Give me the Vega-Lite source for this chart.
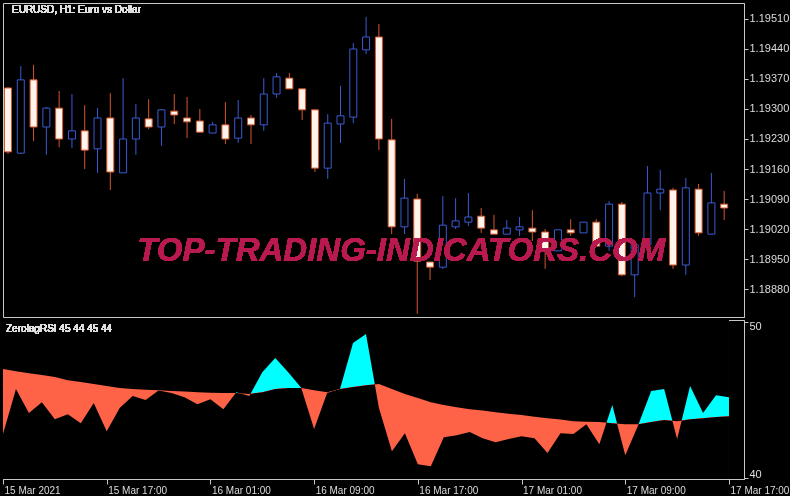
{
  "$schema": "https://vega.github.io/schema/vega-lite/v6.json",
  "background": "#000000",
  "padding": {"left": 2, "top": 2, "right": 0, "bottom": 0},
  "spacing": 1,
  "config": {
    "view": {"stroke": "#c8c8c8", "strokeWidth": 1, "fill": "#000000"},
    "axis": {"domainColor": "#c8c8c8", "tickColor": "#c8c8c8", "labelColor": "#dcdcdc", "labelFont": "Liberation Sans", "grid": false, "title": null}
  },
  "data": {"values": [
    {"t": "2021-03-15T09:00:00Z", "o": 1.19349, "h": 1.19351, "l": 1.19195, "c": 1.19200, "d": "down", "f": 42.81, "s": 46.98},
    {"t": "2021-03-15T10:00:00Z", "o": 1.19197, "h": 1.19400, "l": 1.19195, "c": 1.19368, "d": "up", "f": 45.70, "s": 46.85},
    {"t": "2021-03-15T11:00:00Z", "o": 1.19368, "h": 1.19403, "l": 1.19225, "c": 1.19258, "d": "down", "f": 44.16, "s": 46.72},
    {"t": "2021-03-15T12:00:00Z", "o": 1.19258, "h": 1.19305, "l": 1.19193, "c": 1.19302, "d": "up", "f": 44.86, "s": 46.60},
    {"t": "2021-03-15T13:00:00Z", "o": 1.19302, "h": 1.19342, "l": 1.19211, "c": 1.19230, "d": "down", "f": 43.77, "s": 46.47},
    {"t": "2021-03-15T14:00:00Z", "o": 1.19230, "h": 1.19335, "l": 1.19209, "c": 1.19249, "d": "up", "f": 44.09, "s": 46.27},
    {"t": "2021-03-15T15:00:00Z", "o": 1.19249, "h": 1.19309, "l": 1.19160, "c": 1.19204, "d": "down", "f": 43.51, "s": 46.15},
    {"t": "2021-03-15T16:00:00Z", "o": 1.19207, "h": 1.19302, "l": 1.19151, "c": 1.19279, "d": "up", "f": 44.80, "s": 46.02},
    {"t": "2021-03-15T17:00:00Z", "o": 1.19279, "h": 1.19337, "l": 1.19111, "c": 1.19153, "d": "down", "f": 43.00, "s": 45.89},
    {"t": "2021-03-15T18:00:00Z", "o": 1.19151, "h": 1.19372, "l": 1.19151, "c": 1.19230, "d": "up", "f": 44.48, "s": 45.76},
    {"t": "2021-03-15T19:00:00Z", "o": 1.19230, "h": 1.19312, "l": 1.19193, "c": 1.19279, "d": "up", "f": 45.25, "s": 45.70},
    {"t": "2021-03-15T20:00:00Z", "o": 1.19277, "h": 1.19323, "l": 1.19253, "c": 1.19258, "d": "down", "f": 44.99, "s": 45.66},
    {"t": "2021-03-15T21:00:00Z", "o": 1.19258, "h": 1.19300, "l": 1.19214, "c": 1.19298, "d": "up", "f": 45.60, "s": 45.63},
    {"t": "2021-03-15T22:00:00Z", "o": 1.19295, "h": 1.19335, "l": 1.19265, "c": 1.19286, "d": "down", "f": 45.44, "s": 45.57},
    {"t": "2021-03-15T23:00:00Z", "o": 1.19279, "h": 1.19328, "l": 1.19232, "c": 1.19270, "d": "down", "f": 45.18, "s": 45.54},
    {"t": "2021-03-16T00:00:00Z", "o": 1.19272, "h": 1.19300, "l": 1.19244, "c": 1.19246, "d": "down", "f": 44.73, "s": 45.50},
    {"t": "2021-03-16T01:00:00Z", "o": 1.19244, "h": 1.19270, "l": 1.19244, "c": 1.19263, "d": "up", "f": 45.05, "s": 45.47},
    {"t": "2021-03-16T02:00:00Z", "o": 1.19263, "h": 1.19316, "l": 1.19218, "c": 1.19230, "d": "down", "f": 44.41, "s": 45.44},
    {"t": "2021-03-16T03:00:00Z", "o": 1.19232, "h": 1.19321, "l": 1.19221, "c": 1.19279, "d": "up", "f": 45.50, "s": 45.44},
    {"t": "2021-03-16T04:00:00Z", "o": 1.19279, "h": 1.19286, "l": 1.19218, "c": 1.19263, "d": "down", "f": 45.25, "s": 45.38},
    {"t": "2021-03-16T05:00:00Z", "o": 1.19263, "h": 1.19372, "l": 1.19249, "c": 1.19335, "d": "up", "f": 46.78, "s": 45.50},
    {"t": "2021-03-16T06:00:00Z", "o": 1.19335, "h": 1.19384, "l": 1.19326, "c": 1.19375, "d": "up", "f": 47.69, "s": 45.70},
    {"t": "2021-03-16T07:00:00Z", "o": 1.19372, "h": 1.19384, "l": 1.19347, "c": 1.19347, "d": "down", "f": 46.78, "s": 45.76},
    {"t": "2021-03-16T08:00:00Z", "o": 1.19347, "h": 1.19347, "l": 1.19274, "c": 1.19298, "d": "down", "f": 45.78, "s": 45.76},
    {"t": "2021-03-16T09:00:00Z", "o": 1.19298, "h": 1.19298, "l": 1.19153, "c": 1.19162, "d": "down", "f": 43.13, "s": 45.63},
    {"t": "2021-03-16T10:00:00Z", "o": 1.19162, "h": 1.19288, "l": 1.19137, "c": 1.19267, "d": "up", "f": 45.44, "s": 45.50},
    {"t": "2021-03-16T11:00:00Z", "o": 1.19265, "h": 1.19354, "l": 1.19221, "c": 1.19284, "d": "up", "f": 45.72, "s": 45.70},
    {"t": "2021-03-16T12:00:00Z", "o": 1.19281, "h": 1.19454, "l": 1.19267, "c": 1.19440, "d": "up", "f": 48.65, "s": 45.83},
    {"t": "2021-03-16T13:00:00Z", "o": 1.19438, "h": 1.19515, "l": 1.19428, "c": 1.19468, "d": "up", "f": 49.23, "s": 45.95},
    {"t": "2021-03-16T14:00:00Z", "o": 1.19468, "h": 1.19498, "l": 1.19204, "c": 1.19230, "d": "down", "f": 44.48, "s": 46.02},
    {"t": "2021-03-16T15:00:00Z", "o": 1.19228, "h": 1.19277, "l": 1.19008, "c": 1.19025, "d": "down", "f": 41.71, "s": 45.70},
    {"t": "2021-03-16T16:00:00Z", "o": 1.19025, "h": 1.19137, "l": 1.19008, "c": 1.19092, "d": "up", "f": 42.87, "s": 45.38},
    {"t": "2021-03-16T17:00:00Z", "o": 1.19090, "h": 1.19102, "l": 1.18822, "c": 1.18945, "d": "down", "f": 40.88, "s": 45.12},
    {"t": "2021-03-16T18:00:00Z", "o": 1.18943, "h": 1.18943, "l": 1.18901, "c": 1.18931, "d": "down", "f": 40.75, "s": 44.86},
    {"t": "2021-03-16T19:00:00Z", "o": 1.18931, "h": 1.19097, "l": 1.18927, "c": 1.19029, "d": "up", "f": 42.61, "s": 44.67},
    {"t": "2021-03-16T20:00:00Z", "o": 1.19025, "h": 1.19092, "l": 1.19020, "c": 1.19039, "d": "up", "f": 42.74, "s": 44.54},
    {"t": "2021-03-16T21:00:00Z", "o": 1.19036, "h": 1.19104, "l": 1.19027, "c": 1.19048, "d": "up", "f": 42.94, "s": 44.41},
    {"t": "2021-03-16T22:00:00Z", "o": 1.19050, "h": 1.19069, "l": 1.19011, "c": 1.19022, "d": "down", "f": 42.55, "s": 44.32},
    {"t": "2021-03-16T23:00:00Z", "o": 1.19018, "h": 1.19053, "l": 1.19008, "c": 1.19008, "d": "down", "f": 42.29, "s": 44.22},
    {"t": "2021-03-17T00:00:00Z", "o": 1.19008, "h": 1.19041, "l": 1.19008, "c": 1.19022, "d": "up", "f": 42.49, "s": 44.12},
    {"t": "2021-03-17T01:00:00Z", "o": 1.19018, "h": 1.19048, "l": 1.19004, "c": 1.19025, "d": "up", "f": 42.68, "s": 44.03},
    {"t": "2021-03-17T02:00:00Z", "o": 1.19022, "h": 1.19064, "l": 1.18992, "c": 1.19013, "d": "down", "f": 42.55, "s": 43.93},
    {"t": "2021-03-17T03:00:00Z", "o": 1.19013, "h": 1.19020, "l": 1.18927, "c": 1.18969, "d": "down", "f": 41.59, "s": 43.83},
    {"t": "2021-03-17T04:00:00Z", "o": 1.18969, "h": 1.19018, "l": 1.18969, "c": 1.19018, "d": "up", "f": 42.87, "s": 43.74},
    {"t": "2021-03-17T05:00:00Z", "o": 1.19018, "h": 1.19043, "l": 1.19004, "c": 1.19011, "d": "down", "f": 42.81, "s": 43.64},
    {"t": "2021-03-17T06:00:00Z", "o": 1.19011, "h": 1.19036, "l": 1.19011, "c": 1.19036, "d": "up", "f": 43.45, "s": 43.61},
    {"t": "2021-03-17T07:00:00Z", "o": 1.19036, "h": 1.19043, "l": 1.18980, "c": 1.18980, "d": "down", "f": 42.16, "s": 43.58},
    {"t": "2021-03-17T08:00:00Z", "o": 1.18980, "h": 1.19085, "l": 1.18969, "c": 1.19078, "d": "up", "f": 44.67, "s": 43.51},
    {"t": "2021-03-17T09:00:00Z", "o": 1.19078, "h": 1.19083, "l": 1.18910, "c": 1.18913, "d": "down", "f": 41.46, "s": 43.45},
    {"t": "2021-03-17T10:00:00Z", "o": 1.18913, "h": 1.18983, "l": 1.18861, "c": 1.18983, "d": "up", "f": 43.40, "s": 43.45},
    {"t": "2021-03-17T11:00:00Z", "o": 1.18983, "h": 1.19167, "l": 1.18983, "c": 1.19104, "d": "up", "f": 45.57, "s": 43.58},
    {"t": "2021-03-17T12:00:00Z", "o": 1.19104, "h": 1.19158, "l": 1.19064, "c": 1.19113, "d": "up", "f": 45.70, "s": 43.71},
    {"t": "2021-03-17T13:00:00Z", "o": 1.19111, "h": 1.19116, "l": 1.18927, "c": 1.18936, "d": "down", "f": 42.49, "s": 43.64},
    {"t": "2021-03-17T14:00:00Z", "o": 1.18936, "h": 1.19139, "l": 1.18913, "c": 1.19116, "d": "up", "f": 45.89, "s": 43.77},
    {"t": "2021-03-17T15:00:00Z", "o": 1.19113, "h": 1.19125, "l": 1.19004, "c": 1.19011, "d": "down", "f": 44.16, "s": 43.83},
    {"t": "2021-03-17T16:00:00Z", "o": 1.19008, "h": 1.19151, "l": 1.19008, "c": 1.19081, "d": "up", "f": 45.31, "s": 43.90},
    {"t": "2021-03-17T17:00:00Z", "o": 1.19078, "h": 1.19109, "l": 1.19041, "c": 1.19069, "d": "down", "f": 45.18, "s": 43.96}
  ]},
  "vconcat": [
    {
      "width": 741,
      "height": 314,
      "encoding": {
        "x": {"field": "t", "type": "temporal", "axis": null,
          "scale": {"type": "utc", "domain": [
            {"year": 2021, "month": "mar", "date": 15, "hours": 9, "utc": true},
            {"year": 2021, "month": "mar", "date": 17, "hours": 18, "minutes": 9, "seconds": 30, "utc": true}]}}
      },
      "layer": [
        {
          "mark": {"type": "rule", "strokeWidth": 1, "clip": true},
          "encoding": {
            "y": {"field": "l", "type": "quantitative",
              "scale": {"domain": [1.188147, 1.195473], "zero": false, "nice": false},
              "axis": {"orient": "right", "values": [1.1888, 1.1895, 1.1902, 1.1909, 1.1916, 1.1923, 1.193, 1.1937, 1.1944, 1.1951],
                "tickCount": 20, "format": ".5f", "tickSize": 4, "labelPadding": 1, "labelFontSize": 11, "labelFlush": false, "labelOverlap": false}},
            "y2": {"field": "h"},
            "color": {"field": "d", "type": "nominal", "legend": null,
              "scale": {"domain": ["up", "down"], "range": ["#3a5ad2", "#d4562c"]}}
          }
        },
        {
          "mark": {"type": "bar", "size": 7, "strokeWidth": 1, "clip": true},
          "encoding": {
            "y": {"field": "o", "type": "quantitative"},
            "y2": {"field": "c"},
            "fill": {"field": "d", "type": "nominal", "legend": null,
              "scale": {"domain": ["up", "down"], "range": ["#000000", "#fff4ec"]}},
            "stroke": {"field": "d", "type": "nominal", "legend": null,
              "scale": {"domain": ["up", "down"], "range": ["#3a5ad2", "#d4562c"]}}
          }
        },
        {
          "mark": {"type": "text", "font": "Liberation Sans", "fontSize": 33, "fontWeight": "bold", "fontStyle": "italic", "fill": "#b81b50", "fillOpacity": 0.9, "align": "center", "baseline": "middle"},
          "encoding": {
            "x": {"datum": {"year": 2021, "month": "mar", "date": 16, "hours": 15, "minutes": 45, "utc": true}, "type": "temporal"},
            "y": {"datum": 1.18969},
            "text": {"value": "TOP-TRADING-INDICATORS.COM"}
          }
        },
        {
          "mark": {"type": "text", "font": "Liberation Sans", "fontSize": 10, "fill": "#e0e0e0", "align": "left", "baseline": "top", "dx": 4, "dy": 2},
          "encoding": {
            "x": {"datum": {"year": 2021, "month": "mar", "date": 15, "hours": 9, "utc": true}, "type": "temporal"},
            "y": {"datum": 1.195473},
            "text": {"value": "EURUSD, H1:  Euro vs  Dollar"}
          }
        }
      ]
    },
    {
      "width": 741,
      "height": 159,
      "encoding": {
        "x": {"field": "t", "type": "temporal",
          "scale": {"type": "utc", "domain": [
            {"year": 2021, "month": "mar", "date": 15, "hours": 9, "utc": true},
            {"year": 2021, "month": "mar", "date": 17, "hours": 18, "minutes": 9, "seconds": 30, "utc": true}]},
          "axis": {
            "values": [
              {"year": 2021, "month": "mar", "date": 15, "hours": 9, "utc": true},
              {"year": 2021, "month": "mar", "date": 15, "hours": 17, "utc": true},
              {"year": 2021, "month": "mar", "date": 16, "hours": 1, "utc": true},
              {"year": 2021, "month": "mar", "date": 16, "hours": 9, "utc": true},
              {"year": 2021, "month": "mar", "date": 16, "hours": 17, "utc": true},
              {"year": 2021, "month": "mar", "date": 17, "hours": 1, "utc": true},
              {"year": 2021, "month": "mar", "date": 17, "hours": 9, "utc": true},
              {"year": 2021, "month": "mar", "date": 17, "hours": 17, "utc": true}],
            "tickCount": 20,
            "labelExpr": "utcFormat(datum.value, '%d %b %H') == '15 Mar 09' ? '15 Mar 2021' : utcFormat(datum.value, '%d %b %H:%M')",
            "labelAlign": "left", "labelBaseline": "top", "labelOffset": 1, "tickSize": 5, "labelPadding": 1,
            "labelFontSize": 10, "labelFlush": false, "labelOverlap": false}
        }
      },
      "layer": [
        {
          "mark": {"type": "area", "color": "#00ffff"},
          "encoding": {
            "y": {"field": "s", "type": "quantitative",
              "scale": {"domain": [39.93, 50.13], "zero": false, "nice": false},
              "axis": {"orient": "right", "values": [40, 50], "tickSize": 4, "labelPadding": 1, "labelFontSize": 11, "labelFlush": 4, "labelFlushOffset": 2}},
            "y2": {"datum": 50.13}
          }
        },
        {
          "mark": {"type": "area", "color": "#ff6347"},
          "encoding": {
            "y": {"field": "s", "type": "quantitative"},
            "y2": {"datum": 39.93}
          }
        },
        {
          "mark": {"type": "area", "color": "#000000"},
          "encoding": {
            "y": {"field": "f", "type": "quantitative"},
            "y2": {"datum": 50.13}
          }
        },
        {
          "mark": {"type": "area", "color": "#ff6347", "blend": "difference"},
          "encoding": {
            "y": {"field": "s", "type": "quantitative"},
            "y2": {"datum": 39.93}
          }
        },
        {
          "mark": {"type": "text", "font": "Liberation Sans", "fontSize": 10, "fill": "#e0e0e0", "align": "left", "baseline": "top", "dx": 3, "dy": 4},
          "encoding": {
            "x": {"datum": {"year": 2021, "month": "mar", "date": 15, "hours": 9, "utc": true}, "type": "temporal"},
            "y": {"datum": 50.13},
            "text": {"value": "ZerolagRSI 45 44 45 44"}
          }
        }
      ]
    }
  ]
}
